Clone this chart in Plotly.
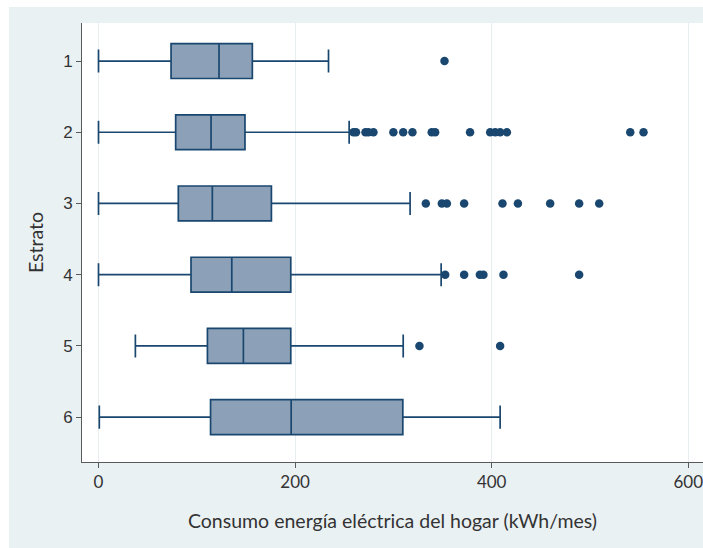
import plotly.graph_objects as go

estratos = [1, 2, 3, 4, 5, 6]
lower_fence = [0, 0, 0, 0, 37.5, 0.8]
q1 = [73.8, 78.5, 81.2, 94.1, 110.8, 114]
median = [122.6, 114.5, 115.8, 135.6, 147.4, 196]
q3 = [156.5, 149, 175.9, 195.6, 195.6, 309.6]
upper_fence = [234, 255, 317, 348.6, 310, 408.6]

outliers = {
    1: [352],
    2: [259.4, 262, 271.6, 274.6, 279.7, 300, 310, 319.4, 339, 342.5, 378,
        398.5, 403.6, 408.6, 415.5, 541, 554.5],
    3: [333, 349.3, 354.4, 372, 411, 426.7, 459.5, 489, 509.4],
    4: [352.7, 372, 388, 391.6, 412, 489],
    5: [326.5, 408.6],
    6: [],
}

x_ticks = [0, 200, 400, 600]

navy = "#1A476F"
fill = "#8CA1B7"
bg = "#EAF1F3"

fig = go.Figure()
fig.add_trace(go.Box(
    y=estratos, q1=q1, median=median, q3=q3,
    lowerfence=lower_fence, upperfence=upper_fence,
    orientation="h", boxpoints=False, width=0.49, whiskerwidth=0.66,
    fillcolor=fill, line=dict(color=navy, width=1.7), showlegend=False,
    hoverinfo="skip",
))

ox, oy = [], []
for k in estratos:
    for v in outliers[k]:
        ox.append(v)
        oy.append(k)
fig.add_trace(go.Scatter(
    x=ox, y=oy, mode="markers",
    marker=dict(color=navy, size=8.5, line=dict(width=0)),
    showlegend=False, hoverinfo="skip",
))

fig.update_layout(
    width=703, height=548,
    margin=dict(l=82, r=0, t=23, b=86),
    paper_bgcolor=bg, plot_bgcolor="white",
    font=dict(family="Lato", color="#333333"),
    shapes=[
        dict(type="rect", xref="paper", yref="paper", x0=-0.2, x1=1.1,
             y0=1.0364, y1=1.2, fillcolor="white", line=dict(width=0)),
        dict(type="rect", xref="paper", yref="paper", x0=-0.2, x1=-0.1176,
             y0=-0.3, y1=1.2, fillcolor="white", line=dict(width=0)),
    ],
)
fig.update_xaxes(
    range=[-16.8, 615], tickvals=x_ticks, ticktext=[str(t) for t in x_ticks],
    ticklabeloverflow="allow",
    showgrid=True, gridcolor="#E8EEF0", gridwidth=1, zeroline=False,
    showline=True, linecolor="#5a5a5a", linewidth=1,
    ticks="outside", ticklen=5, tickcolor="#5a5a5a",
    tickfont=dict(size=17, family="Lato", color="#333333"),
    title=dict(text="Consumo energía eléctrica del hogar (kWh/mes)",
               font=dict(size=19.5, family="Lato", color="#333333"), standoff=22),
)
fig.update_yaxes(
    range=[6.63, 0.466], tickvals=estratos, ticktext=[str(e) for e in estratos],
    showgrid=False, zeroline=False,
    showline=True, linecolor="#5a5a5a", linewidth=1,
    ticks="outside", ticklen=5, tickcolor="#5a5a5a",
    tickfont=dict(size=17, family="Liberation Sans", color="#333333"),
    title=dict(text="Estrato", font=dict(size=19.5, family="Lato", color="#333333"),
               standoff=14),
)

fig.write_html("out.html")
